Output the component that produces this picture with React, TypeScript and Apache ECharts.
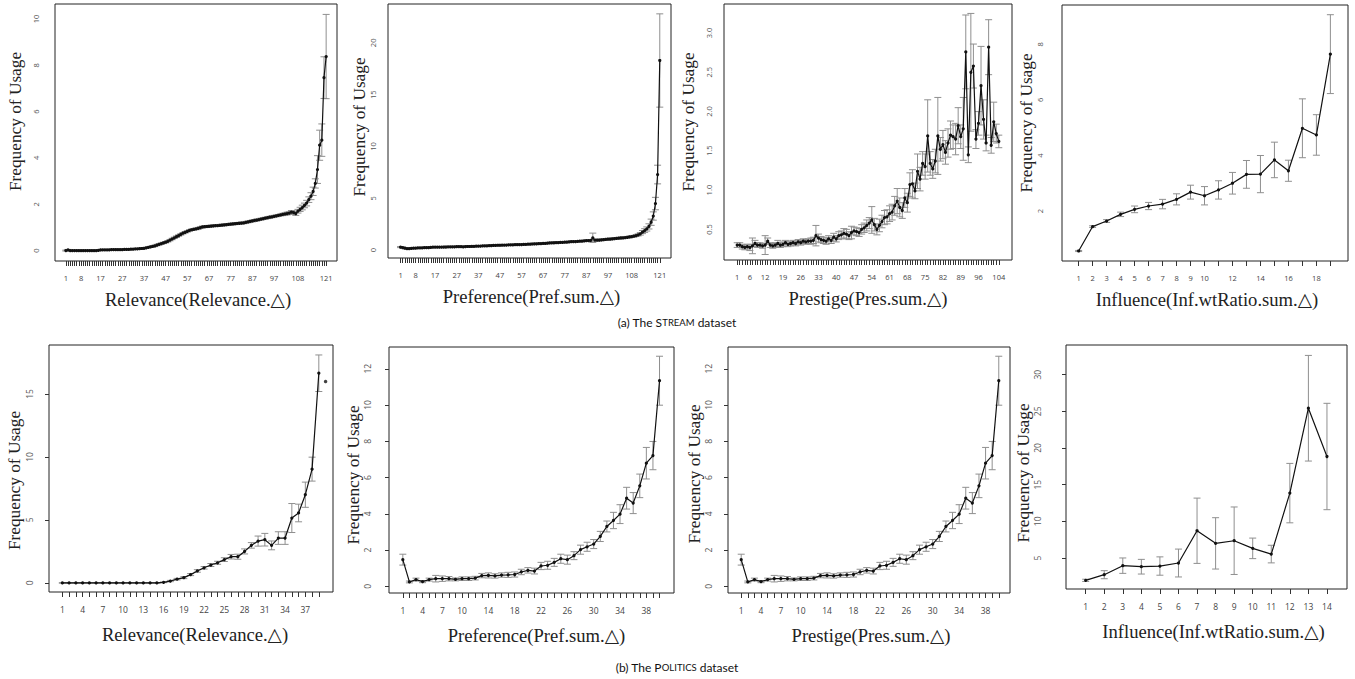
import React, { useEffect, useRef } from "react";
import * as echarts from "echarts";

// ---------------- DATA ----------------
// (a) STREAM dataset
const relStreamLabels = [1, 8, 17, 27, 37, 47, 57, 67, 77, 87, 97, 108, 121];
const relStream = [
  0.00, 0.03, 0.00, 0.00, 0.00, 0.00, 0.00, 0.00, 0.00, 0.00, 0.00, 0.00, 0.00, 0.00, 0.00, 0.01,
  0.03, 0.03, 0.03, 0.03, 0.03, 0.04, 0.04, 0.04, 0.04, 0.04, 0.04, 0.05, 0.05, 0.05,
  0.06, 0.06, 0.07, 0.07, 0.08, 0.09, 0.10,
  0.12, 0.14, 0.16, 0.18, 0.20,
  0.24, 0.27, 0.30, 0.33, 0.36,
  0.40, 0.45, 0.50, 0.55, 0.60, 0.65, 0.70, 0.75, 0.79,
  0.83, 0.87, 0.90, 0.92, 0.94, 0.96, 0.99,
  1.02, 1.03, 1.04, 1.05, 1.06, 1.07, 1.08, 1.08, 1.09, 1.10, 1.11, 1.12, 1.13, 1.14,
  1.15, 1.16, 1.17, 1.18, 1.19, 1.20, 1.22, 1.24, 1.26, 1.28,
  1.30, 1.32, 1.34, 1.36, 1.38, 1.40, 1.42, 1.44, 1.46, 1.48,
  1.50, 1.52, 1.54, 1.56, 1.58, 1.60, 1.62, 1.66, 1.64, 1.60, 1.70,
  1.78, 1.86, 1.95, 2.05, 2.20, 2.35, 2.56, 2.90, 3.50, 4.55, 4.77, 7.47, 8.38,
];
const relStreamErr = [
  0.02, 0.02, 0.02, 0.02, 0.02, 0.02, 0.02, 0.02, 0.02, 0.02, 0.02, 0.02, 0.02, 0.02, 0.02, 0.02, 0.02, 0.02, 0.02, 0.02,
  0.02, 0.02, 0.02, 0.02, 0.02, 0.02, 0.02, 0.02, 0.02, 0.02, 0.02, 0.02, 0.02, 0.02, 0.02, 0.02, 0.02, 0.02, 0.02, 0.02,
  0.03, 0.03, 0.03, 0.03, 0.03, 0.03, 0.03, 0.03, 0.03, 0.03, 0.03, 0.03, 0.03, 0.03, 0.03, 0.03, 0.03, 0.03, 0.03, 0.03,
  0.04, 0.04, 0.04, 0.04, 0.04, 0.04, 0.04, 0.04, 0.04, 0.04, 0.04, 0.04, 0.04, 0.04, 0.04, 0.04, 0.04, 0.04, 0.04, 0.04,
  0.04, 0.04, 0.04, 0.04, 0.04, 0.04, 0.04, 0.04, 0.04, 0.04, 0.04, 0.04, 0.04, 0.04, 0.04, 0.04, 0.04, 0.04, 0.04, 0.04,
  0.05, 0.05, 0.06, 0.06, 0.07, 0.07, 0.08, 0.08, 0.09, 0.10,
  0.10, 0.12, 0.12, 0.15, 0.18, 0.20, 0.60, 0.65, 0.70, 0.90, 1.82,
];

const prefStreamLabels = [1, 8, 17, 27, 37, 47, 57, 67, 77, 87, 97, 108, 121];
const prefStream = [
  0.30, 0.25, 0.20, 0.15, 0.15, 0.18, 0.20, 0.20, 0.22, 0.22,
  0.22, 0.24, 0.25, 0.26, 0.28, 0.30, 0.30, 0.30, 0.30, 0.30,
  0.31, 0.31, 0.32, 0.32, 0.32, 0.33, 0.34, 0.35, 0.34, 0.33,
  0.35, 0.36, 0.36, 0.37, 0.38, 0.39, 0.40, 0.40, 0.41, 0.42,
  0.43, 0.44, 0.45, 0.46, 0.47, 0.48, 0.48, 0.49, 0.50, 0.50,
  0.51, 0.52, 0.52, 0.53, 0.54, 0.55, 0.55, 0.56, 0.57, 0.58,
  0.59, 0.60, 0.61, 0.62, 0.63, 0.64, 0.65, 0.66, 0.68, 0.70,
  0.71, 0.72, 0.73, 0.74, 0.75, 0.76, 0.78, 0.79, 0.80, 0.82,
  0.83, 0.84, 0.86, 0.87, 0.88, 0.90, 0.92, 0.93, 0.95, 1.20,
  0.98, 0.97, 0.98, 1.00, 1.02, 1.04, 1.06, 1.08, 1.10, 1.12,
  1.14, 1.16, 1.18, 1.20, 1.22, 1.25, 1.28, 1.31, 1.35, 1.40,
  1.48, 1.58, 1.75, 1.90, 2.05, 2.30, 2.70, 3.30, 4.50, 7.30, 18.30,
];
const prefStreamErr = [
  0.05, 0.05, 0.05, 0.05, 0.05, 0.05, 0.05, 0.05, 0.05, 0.05, 0.05, 0.05, 0.05, 0.05, 0.05, 0.05, 0.05, 0.05, 0.05, 0.05,
  0.05, 0.05, 0.05, 0.05, 0.05, 0.05, 0.05, 0.05, 0.05, 0.05, 0.05, 0.05, 0.05, 0.05, 0.05, 0.05, 0.05, 0.05, 0.05, 0.05,
  0.05, 0.05, 0.05, 0.05, 0.05, 0.05, 0.05, 0.05, 0.05, 0.05, 0.05, 0.05, 0.05, 0.05, 0.05, 0.05, 0.05, 0.05, 0.05, 0.05,
  0.06, 0.06, 0.06, 0.06, 0.06, 0.06, 0.06, 0.06, 0.06, 0.06, 0.06, 0.06, 0.06, 0.06, 0.06, 0.06, 0.06, 0.06, 0.06, 0.06,
  0.06, 0.06, 0.06, 0.06, 0.06, 0.06, 0.06, 0.06, 0.06, 0.45,
  0.08, 0.08, 0.08, 0.08, 0.08, 0.08, 0.08, 0.08, 0.08, 0.08, 0.08, 0.08, 0.08, 0.08, 0.08, 0.08, 0.08, 0.08, 0.08, 0.08,
  0.10, 0.12, 0.15, 0.18, 0.20, 0.25, 0.30, 0.40, 0.60, 0.90, 4.50,
];

const presStreamLabels = [1, 6, 12, 19, 26, 33, 40, 47, 54, 61, 68, 75, 82, 89, 96, 104];
const presStream = [
  0.30, 0.30, 0.28, 0.27, 0.28, 0.27, 0.29, 0.32, 0.30, 0.30,
  0.29, 0.30, 0.35, 0.30, 0.29, 0.30, 0.32, 0.30, 0.31, 0.33,
  0.31, 0.32, 0.33, 0.32, 0.34, 0.33, 0.35, 0.34, 0.35, 0.35,
  0.36, 0.42, 0.39, 0.37, 0.36, 0.35, 0.38, 0.36, 0.40, 0.38,
  0.42, 0.43, 0.45, 0.44, 0.42, 0.46, 0.48, 0.47, 0.46, 0.50,
  0.52, 0.55, 0.58, 0.62, 0.56, 0.50, 0.55, 0.60, 0.65, 0.66,
  0.70, 0.72, 0.80, 0.86, 0.78, 0.74, 0.90, 0.84, 1.07, 1.08,
  0.99, 1.24, 1.14, 1.34, 1.30, 1.69, 1.34, 1.27, 1.37, 1.69,
  1.52, 1.58, 1.48, 1.60, 1.70, 1.68, 1.65, 1.82, 1.68, 1.78,
  2.76, 1.45, 2.50, 2.58, 1.65, 1.85, 2.33, 1.90, 1.60, 2.82,
  1.57, 1.87, 1.72, 1.62,
];
const presStreamErr = [
  0.03, 0.03, 0.03, 0.03, 0.03, 0.04, 0.10, 0.04, 0.03, 0.03,
  0.03, 0.12, 0.04, 0.03, 0.03, 0.03, 0.04, 0.03, 0.03, 0.03,
  0.03, 0.03, 0.03, 0.03, 0.03, 0.03, 0.03, 0.03, 0.03, 0.04,
  0.04, 0.13, 0.05, 0.04, 0.04, 0.04, 0.04, 0.04, 0.05, 0.04,
  0.05, 0.05, 0.06, 0.06, 0.05, 0.08, 0.05, 0.05, 0.05, 0.06,
  0.06, 0.07, 0.07, 0.17, 0.08, 0.07, 0.08, 0.08, 0.09, 0.09,
  0.10, 0.10, 0.12, 0.16, 0.12, 0.10, 0.12, 0.12, 0.15, 0.18,
  0.10, 0.22, 0.15, 0.15, 0.16, 0.46, 0.15, 0.12, 0.15, 0.49,
  0.15, 0.18, 0.15, 0.18, 0.18, 0.15, 0.20, 0.23, 0.15, 0.40,
  0.47, 0.10, 0.75, 0.28, 0.12, 0.15, 0.50, 0.25, 0.10, 0.35,
  0.10, 0.25, 0.12, 0.08,
];

const infStreamLabels = [1, 2, 3, 4, 5, 6, 7, 8, 9, 10, 12, 14, 16, 18];
const infStream = [0.56, 1.44, 1.64, 1.88, 2.06, 2.18, 2.25, 2.42, 2.68, 2.55, 2.76, 3.00, 3.32, 3.33, 3.84, 3.45, 4.98, 4.74, 7.65];
const infStreamErr = [0.02, 0.03, 0.05, 0.08, 0.12, 0.13, 0.17, 0.20, 0.25, 0.33, 0.33, 0.39, 0.50, 0.67, 0.64, 0.38, 1.06, 0.73, 1.42];

// (b) POLITICS dataset
const relPolLabels = [1, 4, 7, 10, 13, 16, 19, 22, 25, 28, 31, 34, 37];
const relPol = [
  0, 0, 0, 0, 0, 0, 0, 0, 0, 0, 0, 0, 0, 0, 0,
  0.05, 0.15, 0.30, 0.42, 0.66, 0.95, 1.20, 1.42, 1.60, 1.85,
  2.08, 2.08, 2.50, 2.98, 3.32, 3.43, 2.98, 3.56, 3.56, 5.15,
  5.55, 7.00, 9.03, 16.64, 15.98,
];
const relPolErr = [
  0.02, 0.02, 0.02, 0.02, 0.02, 0.02, 0.02, 0.02, 0.02, 0.02, 0.02, 0.02, 0.02, 0.02, 0.02,
  0.03, 0.05, 0.06, 0.08, 0.08, 0.10, 0.10, 0.12, 0.12, 0.15,
  0.18, 0.20, 0.20, 0.22, 0.40, 0.50, 0.35, 0.50, 0.50, 1.15,
  0.70, 1.00, 0.95, 1.45, 0,
];
const relPolConnected = 39; // the 40th point is drawn alone

const prefPolLabels = [1, 4, 7, 10, 14, 18, 22, 26, 30, 34, 38];
const prefPol = [
  1.47, 0.24, 0.37, 0.26, 0.37, 0.42, 0.42, 0.42, 0.38, 0.42,
  0.42, 0.45, 0.59, 0.60, 0.57, 0.62, 0.63, 0.65, 0.79, 0.88,
  0.84, 1.12, 1.16, 1.32, 1.52, 1.47, 1.69, 2.02, 2.18, 2.33,
  2.75, 3.30, 3.63, 3.98, 4.86, 4.59, 5.54, 6.79, 7.21, 11.34,
];
const prefPolErr = [
  0.30, 0.05, 0.08, 0.06, 0.08, 0.18, 0.15, 0.12, 0.08, 0.10,
  0.10, 0.10, 0.12, 0.14, 0.12, 0.12, 0.14, 0.14, 0.15, 0.15,
  0.16, 0.20, 0.22, 0.22, 0.25, 0.25, 0.22, 0.25, 0.25, 0.25,
  0.28, 0.30, 0.45, 0.52, 0.60, 0.58, 0.65, 0.87, 0.78, 1.35,
];

const presPolLabels = [1, 4, 7, 10, 14, 18, 22, 26, 30, 34, 38];
const presPol = [
  1.47, 0.24, 0.37, 0.26, 0.37, 0.42, 0.42, 0.42, 0.38, 0.42,
  0.42, 0.45, 0.59, 0.60, 0.57, 0.62, 0.63, 0.65, 0.79, 0.88,
  0.84, 1.12, 1.16, 1.32, 1.52, 1.47, 1.69, 2.02, 2.18, 2.33,
  2.75, 3.30, 3.63, 3.98, 4.86, 4.59, 5.54, 6.79, 7.21, 11.34,
];
const presPolErr = [
  0.30, 0.05, 0.08, 0.06, 0.08, 0.18, 0.15, 0.12, 0.08, 0.10,
  0.10, 0.10, 0.12, 0.14, 0.12, 0.12, 0.14, 0.14, 0.15, 0.15,
  0.16, 0.20, 0.22, 0.22, 0.25, 0.25, 0.22, 0.25, 0.25, 0.25,
  0.28, 0.30, 0.45, 0.52, 0.60, 0.58, 0.65, 0.87, 0.78, 1.35,
];

const infPolLabels = [1, 2, 3, 4, 5, 6, 7, 8, 9, 10, 11, 12, 13, 14];
const infPol = [1.96, 2.73, 3.96, 3.82, 3.91, 4.32, 8.72, 7.00, 7.36, 6.32, 5.54, 13.85, 25.42, 18.84];
const infPolErr = [0.15, 0.55, 1.05, 1.00, 1.25, 1.90, 4.45, 3.50, 4.60, 1.40, 1.20, 4.05, 7.20, 7.25];

// y-axis tick labels
const yTicksRelStream = [0, 2, 4, 6, 8, 10];
const yTicksPrefStream = [0, 5, 10, 15, 20];
const yTicksPresStream = [0.5, 1.0, 1.5, 2.0, 2.5, 3.0];
const yTicksInfStream = [2, 4, 6, 8];
const yTicksRelPol = [0, 5, 10, 15];
const yTicksPrefPol = [0, 2, 4, 6, 8, 10, 12];
const yTicksPresPol = [0, 2, 4, 6, 8, 10, 12];
const yTicksInfPol = [5, 10, 15, 20, 25, 30];

const xNames = [
  "Relevance(Relevance.\u25B3)",
  "Preference(Pref.sum.\u25B3)",
  "Prestige(Pres.sum.\u25B3)",
  "Influence(Inf.wtRatio.sum.\u25B3)",
  "Relevance(Relevance.\u25B3)",
  "Preference(Pref.sum.\u25B3)",
  "Prestige(Pres.sum.\u25B3)",
  "Influence(Inf.wtRatio.sum.\u25B3)",
];
const yName = "Frequency of Usage";

// ---------------- LAYOUT ----------------
type Layout = {
  box: [number, number, number, number];
  xr: [number, number];
  yr: [number, number];
  yLabelMargin: number;
  yNameGap: number;
  yNameShift: number; // + moves the y title up
  xNameShift: number; // + moves the x title right
  row: number;
};
const layouts: Layout[] = [
  { box: [55, 4, 337, 261], xr: [-4.0, 126], yr: [-0.45, 10.65], yLabelMargin: 15, yNameGap: 31, yNameShift: 11, xNameShift: 2, row: 0 },
  { box: [388, 4, 671, 258], xr: [-4.8, 126.2], yr: [-0.75, 23.75], yLabelMargin: 11, yNameGap: 19, yNameShift: 4, xNameShift: 2, row: 0 },
  { box: [724, 4, 1012, 260], xr: [-4.2, 109.2], yr: [0.11, 3.37], yLabelMargin: 11, yNameGap: 27, yNameShift: 10, xNameShift: 0, row: 0 },
  { box: [1062, 5, 1348, 261], xr: [-0.19, 20.26], yr: [0.2, 9.42], yLabelMargin: 18, yNameGap: 21, yNameShift: 10, xNameShift: 2, row: 0 },
  { box: [49, 345, 333, 592], xr: [-0.98, 41.1], yr: [-0.72, 18.88], yLabelMargin: 15, yNameGap: 26, yNameShift: -12, xNameShift: 4, row: 1 },
  { box: [389, 347, 674, 593], xr: [-1.1, 42.2], yr: [-0.37, 13.2], yLabelMargin: 17, yNameGap: 20, yNameShift: -5, xNameShift: 5, row: 1 },
  { box: [728, 347, 1010, 593], xr: [-1.0, 41.7], yr: [-0.37, 13.2], yLabelMargin: 15, yNameGap: 24, yNameShift: -4, xNameShift: 2, row: 1 },
  { box: [1066, 345, 1347, 589], xr: [-0.06, 15.08], yr: [0.78, 34.04], yLabelMargin: 24, yNameGap: 25, yNameShift: -6, xNameShift: 7, row: 1 },
];

const panels = [
  { values: relStream, errs: relStreamErr, xLabels: relStreamLabels, yTicks: yTicksRelStream, nTicks: relStream.length, connected: relStream.length, dec: 0 },
  { values: prefStream, errs: prefStreamErr, xLabels: prefStreamLabels, yTicks: yTicksPrefStream, nTicks: prefStream.length, connected: prefStream.length, dec: 0 },
  { values: presStream, errs: presStreamErr, xLabels: presStreamLabels, yTicks: yTicksPresStream, nTicks: presStream.length, connected: presStream.length, dec: 1 },
  { values: infStream, errs: infStreamErr, xLabels: infStreamLabels, yTicks: yTicksInfStream, nTicks: infStream.length, connected: infStream.length, dec: 0 },
  { values: relPol, errs: relPolErr, xLabels: relPolLabels, yTicks: yTicksRelPol, nTicks: relPolConnected, connected: relPolConnected, dec: 0 },
  { values: prefPol, errs: prefPolErr, xLabels: prefPolLabels, yTicks: yTicksPrefPol, nTicks: prefPol.length, connected: prefPol.length, dec: 0 },
  { values: presPol, errs: presPolErr, xLabels: presPolLabels, yTicks: yTicksPresPol, nTicks: presPol.length, connected: presPol.length, dec: 0 },
  { values: infPol, errs: infPolErr, xLabels: infPolLabels, yTicks: yTicksInfPol, nTicks: infPol.length, connected: infPol.length, dec: 0 },
];

const SANS = "'Open Sans', 'Liberation Sans', sans-serif";
const SERIF = "'Liberation Serif', 'DejaVu Serif', serif";

function shiftPad(s: number) {
  // padding [top, right, bottom, left] in the text's own frame; a centred text moves by half the padding
  return s >= 0 ? [0, 0, 0, 2 * s] : [0, -2 * s, 0, 0];
}

function buildOption() {
  const grid: any[] = [];
  const xAxis: any[] = [];
  const yAxis: any[] = [];
  const series: any[] = [];

  panels.forEach((p, i) => {
    const L = layouts[i];
    const [l, t, r, b] = L.box;
    const tickFont = L.row === 0 ? 7.5 : 8.5;
    grid.push({
      left: l, top: t, width: r - l, height: b - t,
      show: true, borderColor: "#222", borderWidth: 1, backgroundColor: "transparent",
      containLabel: false,
    });
    const tickPositions = Array.from({ length: p.nTicks }, (_, k) => k + 1);
    xAxis.push({
      type: "value", gridIndex: i, min: L.xr[0], max: L.xr[1], position: "bottom",
      axisLine: { show: false, onZero: false },
      axisTick: { show: true, customValues: tickPositions, length: 5, lineStyle: { color: "#333", width: 1 } },
      axisLabel: { show: true, customValues: p.xLabels, fontSize: tickFont, color: "#444", margin: 13, fontFamily: SANS, hideOverlap: false },
      splitLine: { show: false },
      name: xNames[i], nameLocation: "middle", nameGap: L.row === 0 ? 29 : 33,
      nameTextStyle: { fontFamily: SERIF, fontSize: 18.6, color: "#222", padding: shiftPad(L.xNameShift) },
    });
    yAxis.push({
      type: "value", gridIndex: i, min: L.yr[0], max: L.yr[1], position: "left",
      axisLine: { show: false, onZero: false },
      axisTick: { show: L.row === 1, customValues: p.yTicks, length: 4, lineStyle: { color: "#333", width: 1 } },
      axisLabel: {
        show: true, customValues: p.yTicks, rotate: 90, fontSize: tickFont, color: "#555",
        margin: L.yLabelMargin, fontFamily: SANS,
        formatter: (v: number) => (p.dec ? v.toFixed(p.dec) : String(v)),
      },
      splitLine: { show: false },
      name: yName, nameLocation: "middle", nameGap: L.yNameGap,
      nameTextStyle: { fontFamily: SERIF, fontSize: 17.3, color: "#222", padding: shiftPad(L.yNameShift) },
    });

    const errData = p.values
      .map((v, k) => [k + 1, v - p.errs[k], v + p.errs[k]])
      .filter((_, k) => p.errs[k] > 0);
    series.push({
      type: "custom", xAxisIndex: i, yAxisIndex: i, data: errData, silent: true, z: 2,
      encode: { x: 0, y: [1, 2] },
      renderItem: (_params: any, api: any) => {
        const x = api.value(0);
        const lo = api.coord([x, api.value(1)]);
        const hi = api.coord([x, api.value(2)]);
        const w = 3.5;
        const style = { stroke: "#8f8f8f", lineWidth: 1 };
        return {
          type: "group",
          children: [
            { type: "line", shape: { x1: lo[0], y1: lo[1], x2: hi[0], y2: hi[1] }, style },
            { type: "line", shape: { x1: lo[0] - w, y1: lo[1], x2: lo[0] + w, y2: lo[1] }, style },
            { type: "line", shape: { x1: hi[0] - w, y1: hi[1], x2: hi[0] + w, y2: hi[1] }, style },
          ],
        };
      },
    });
    series.push({
      type: "line", xAxisIndex: i, yAxisIndex: i, z: 3, silent: true,
      data: p.values.slice(0, p.connected).map((v, k) => [k + 1, v]),
      symbol: "circle", symbolSize: 3.2, showSymbol: true,
      lineStyle: { color: "#111", width: 1.2 },
      itemStyle: { color: "#111" },
    });
    if (p.connected < p.values.length) {
      series.push({
        type: "scatter", xAxisIndex: i, yAxisIndex: i, z: 3, silent: true,
        data: p.values.slice(p.connected).map((v, k) => [p.connected + k + 1, v]),
        symbol: "circle", symbolSize: 3.5, itemStyle: { color: "#111" },
      });
    }
  });

  const capFont = "Lato, 'Open Sans', sans-serif";
  const graphic = [
    {
      type: "text", x: 677, y: 322,
      style: {
        text: "(a) The S{sc|TREAM} dataset",
        fontSize: 12, fontFamily: capFont, fill: "#111", align: "center", verticalAlign: "middle",
        rich: { sc: { fontSize: 9.5, fontFamily: capFont, fill: "#111" } },
      },
    },
    {
      type: "text", x: 677, y: 667,
      style: {
        text: "(b) The P{sc|OLITICS} dataset",
        fontSize: 12, fontFamily: capFont, fill: "#111", align: "center", verticalAlign: "middle",
        rich: { sc: { fontSize: 9.5, fontFamily: capFont, fill: "#111" } },
      },
    },
  ];

  return { animation: false, backgroundColor: "#fff", grid, xAxis, yAxis, series, graphic };
}

export default function App() {
  const ref = useRef<HTMLDivElement>(null);
  useEffect(() => {
    if (!ref.current) return;
    const chart = echarts.init(ref.current, undefined, { renderer: "svg" });
    chart.setOption(buildOption() as any);
    return () => chart.dispose();
  }, []);
  return (
    <div
      ref={ref}
      style={{ position: "fixed", left: 0, top: 0, width: 1355, height: 679, background: "#fff" }}
    />
  );
}
